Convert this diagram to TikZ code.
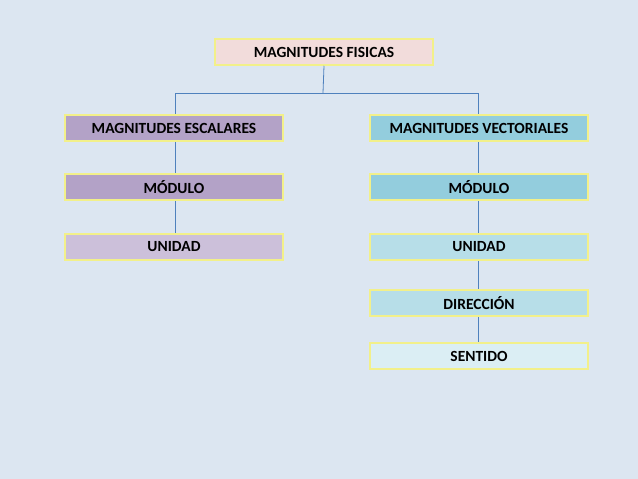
\documentclass[tikz,border=0pt]{standalone}
\usepackage{fontspec}
\setmainfont{Carlito}
\definecolor{bg}{HTML}{DCE6F1}
\definecolor{ylw}{HTML}{F2F08A}
\definecolor{ln}{HTML}{4F81BD}
\definecolor{cTop}{HTML}{F2DCDB}
\definecolor{cEsc}{HTML}{B3A2C7}
\definecolor{cUnL}{HTML}{CCC0DA}
\definecolor{cVec}{HTML}{93CDDD}
\definecolor{cUnR}{HTML}{B7DEE8}
\definecolor{cSen}{HTML}{DBEEF4}
\tikzset{x=1pt,y=-1pt,
 bx/.style={draw=ylw,line width=1.5pt,minimum width=218pt,minimum height=26pt,inner sep=0pt,font=\bfseries\fontsize{15.5}{17}\selectfont},
 cn/.style={draw=ln,line width=0.8pt}}
\begin{document}
\begin{tikzpicture}
\fill[bg] (0,0) rectangle (638,479);
\useasboundingbox (0,0) rectangle (638,479);
\node[bx,fill=cTop] (top) at (324,52) {MAGNITUDES FISICAS};
\node[bx,fill=cEsc] (esc) at (174,128) {MAGNITUDES ESCALARES};
\node[bx,fill=cEsc] (modL) at (174,187) {MÓDULO};
\node[bx,fill=cUnL] (unL) at (174,247) {UNIDAD};
\node[bx,fill=cVec] (vec) at (479,128) {MAGNITUDES VECTORIALES};
\node[bx,fill=cVec] (modR) at (479,187) {MÓDULO};
\node[bx,fill=cUnR] (unR) at (479,247) {UNIDAD};
\node[bx,fill=cUnR] (dir) at (479,303) {DIRECCIÓN};
\node[bx,fill=cSen] (sen) at (479,356) {SENTIDO};
\coordinate (j) at (323,93);
\draw[cn] (top.south) -- (j);
\draw[cn] (j) -| (175,93) -- (175,0 |- esc.north);
\draw[cn] (j) -| (478,93) -- (478,0 |- vec.north);
\draw[cn] (175,0 |- esc.south) -- (175,0 |- modL.north);
\draw[cn] (175,0 |- modL.south) -- (175,0 |- unL.north);
\draw[cn] (478,0 |- vec.south) -- (478,0 |- modR.north);
\draw[cn] (478,0 |- modR.south) -- (478,0 |- unR.north);
\draw[cn] (478,0 |- unR.south) -- (478,0 |- dir.north);
\draw[cn] (478,0 |- dir.south) -- (478,0 |- sen.north);
\end{tikzpicture}
\end{document}
